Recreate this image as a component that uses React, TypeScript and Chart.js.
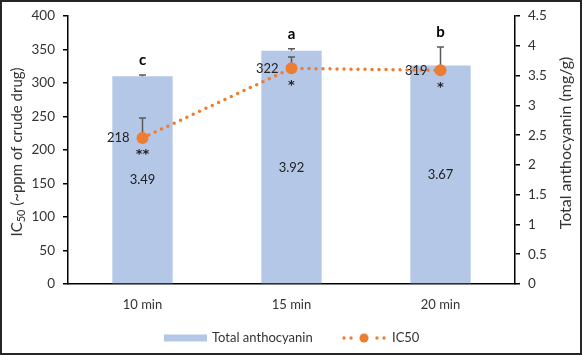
import React, { useEffect, useRef } from "react";
import { Chart, registerables } from "chart.js";

Chart.register(...registerables);

const categories = ["10 min", "15 min", "20 min"];
const anthocyanin = [3.49, 3.92, 3.67];
const anthocyaninErr = [0.02, 0.03, 0];
const ic50 = [218, 322, 319];
const ic50Err = [30, 17, 35];
const ic50Stars = ["**", "*", "*"];
const groupLetters = ["c", "a", "b"];

const FONT = "Lato, 'Open Sans', sans-serif";
const TEXT = "#333333";
const BAR = "#B4C7E7";
const ORANGE = "#ED7D31";

const overlay = {
  id: "overlay",
  beforeDatasetDraw(chart: any, args: any) {
    if (args.index !== 0) return;
    const ctx = chart.ctx;
    const x = chart.scales.x;
    const y = chart.scales.y;
    const y1 = chart.scales.y1;
    ctx.save();
    ctx.strokeStyle = "#595959";
    ctx.lineWidth = 1.5;
    const cap = 3.5;
    const seg = (px: number, a: number, b: number) => {
      ctx.beginPath();
      ctx.moveTo(px, a);
      ctx.lineTo(px, b);
      ctx.moveTo(px - cap, b);
      ctx.lineTo(px + cap, b);
      ctx.stroke();
    };
    categories.forEach((_, i) => {
      const px = x.getPixelForValue(i);
      if (anthocyaninErr[i] > 0)
        seg(px, y1.getPixelForValue(anthocyanin[i]), y1.getPixelForValue(anthocyanin[i] + anthocyaninErr[i]));
      if (ic50Err[i] > 0) seg(px, y.getPixelForValue(ic50[i]), y.getPixelForValue(ic50[i] + ic50Err[i]));
    });
    ctx.restore();
  },
  afterDraw(chart: any) {
    const ctx = chart.ctx;
    const x = chart.scales.x;
    const y = chart.scales.y;
    const y1 = chart.scales.y1;
    ctx.save();
    ctx.fillStyle = TEXT;
    ctx.textBaseline = "middle";
    categories.forEach((_, i) => {
      const px = x.getPixelForValue(i);
      // bar value labels
      ctx.font = `13px ${FONT}`;
      ctx.textAlign = "center";
      ctx.fillStyle = "#222";
      const top = y1.getPixelForValue(anthocyanin[i]);
      const bot = y1.getPixelForValue(0);
      ctx.fillText(anthocyanin[i].toFixed(2), px, (top + bot) / 2);
      // ic50 labels
      const py = y.getPixelForValue(ic50[i]);
      ctx.textAlign = "right";
      ctx.fillText(String(ic50[i]), px - 13, py);
      ctx.textAlign = "center";
      ctx.font = `bold 13px 'DejaVu Sans', sans-serif`;
      ctx.fillText(ic50Stars[i], px, py + 17);
      // group letters
      const errTop = Math.min(
        y1.getPixelForValue(anthocyanin[i] + anthocyaninErr[i]),
        y.getPixelForValue(ic50[i] + ic50Err[i])
      );
      ctx.font = `bold 15px ${FONT}`;
      ctx.fillStyle = "#000";
      ctx.fillText(groupLetters[i], px, errTop - 15);
    });

    // axis titles
    ctx.fillStyle = TEXT;
    ctx.save();
    ctx.translate(17, 152);
    ctx.rotate(-Math.PI / 2);
    const p1 = "IC";
    const sub = "50";
    const p2 = " (~ppm of crude drug)";
    ctx.font = `15px ${FONT}`;
    const w1 = ctx.measureText(p1).width;
    const w3 = ctx.measureText(p2).width;
    ctx.font = `11px ${FONT}`;
    const w2 = ctx.measureText(sub).width;
    const total = w1 + w2 + w3;
    let cx = -total / 2;
    ctx.textAlign = "left";
    ctx.font = `15px ${FONT}`;
    ctx.fillText(p1, cx, 0);
    cx += w1;
    ctx.font = `11px ${FONT}`;
    ctx.fillText(sub, cx, 4);
    cx += w2;
    ctx.font = `15px ${FONT}`;
    ctx.fillText(p2, cx, 0);
    ctx.restore();

    ctx.save();
    ctx.translate(566, 143);
    ctx.rotate(-Math.PI / 2);
    ctx.textAlign = "center";
    ctx.font = `16px ${FONT}`;
    ctx.fillText("Total anthocyanin (mg/g)", 0, 0);
    ctx.restore();

    // legend
    const ly = 338;
    ctx.fillStyle = BAR;
    ctx.fillRect(164, ly - 3.5, 43, 7);
    ctx.fillStyle = TEXT;
    ctx.font = `13px ${FONT}`;
    ctx.textAlign = "left";
    ctx.fillText("Total anthocyanin", 212, ly);
    ctx.fillStyle = ORANGE;
    [344, 351, 377, 384].forEach((dx) => {
      ctx.beginPath();
      ctx.arc(dx, ly, 1.7, 0, Math.PI * 2);
      ctx.fill();
    });
    ctx.beginPath();
    ctx.arc(364, ly, 4.5, 0, Math.PI * 2);
    ctx.fill();
    ctx.fillStyle = TEXT;
    ctx.fillText("IC50", 392, ly);

    // frame
    ctx.strokeStyle = "#262626";
    ctx.lineWidth = 2;
    ctx.strokeRect(1, 1, 580, 353);
    ctx.restore();
  },
};

export default function App() {
  const ref = useRef<HTMLCanvasElement>(null);
  useEffect(() => {
    if (!ref.current) return;
    const chart = new Chart(ref.current, {
      type: "bar",
      data: {
        labels: categories,
        datasets: [
          {
            type: "line",
            label: "IC50",
            data: ic50,
            yAxisID: "y",
            borderColor: ORANGE,
            backgroundColor: ORANGE,
            borderWidth: 3.5,
            borderDash: [0, 7],
            borderCapStyle: "round",
            pointRadius: 6,
            pointBackgroundColor: ORANGE,
            pointBorderWidth: 0,
            tension: 0,
          } as any,
          {
            type: "bar",
            label: "Total anthocyanin",
            data: anthocyanin,
            yAxisID: "y1",
            backgroundColor: BAR,
            categoryPercentage: 1,
            barPercentage: 0.405,
          },
        ],
      },
      options: {
        responsive: false,
        animation: false,
        layout: { padding: { top: 14, left: 0, right: 0, bottom: 0 } },
        plugins: { legend: { display: false }, tooltip: { enabled: false } },
        scales: {
          x: {
            grid: { display: false, drawTicks: false },
            border: { color: "#000", width: 1.5 },
            ticks: { color: TEXT, font: { family: FONT, size: 13 }, padding: 13 },
            afterFit(s: any) {
              s.height = 71;
            },
          },
          y: {
            position: "left",
            min: 0,
            max: 400,
            ticks: { stepSize: 50, color: TEXT, font: { family: FONT, size: 13.5 }, padding: 8 },
            grid: { drawOnChartArea: false, drawTicks: true, tickLength: 5, color: "#000", lineWidth: 1.5 },
            border: { color: "#000", width: 1.5 },
            afterFit(s: any) {
              s.width = 68;
            },
          },
          y1: {
            position: "right",
            min: 0,
            max: 4.5,
            ticks: {
              stepSize: 0.5,
              color: TEXT,
              font: { family: FONT, size: 13.5 },
              padding: 8,
              callback: (v: any) => String(Number(v)),
            },
            grid: { drawOnChartArea: false, drawTicks: true, tickLength: 5, color: "#000", lineWidth: 1.5 },
            border: { color: "#000", width: 1.5 },
            afterFit(s: any) {
              s.width = 67;
            },
          },
        },
      },
      plugins: [overlay],
    });
    return () => chart.destroy();
  }, []);
  return (
    <div style={{ position: "fixed", left: 0, top: 0, width: 582, height: 355, background: "#fff" }}>
      <canvas ref={ref} width={582} height={355} />
    </div>
  );
}
